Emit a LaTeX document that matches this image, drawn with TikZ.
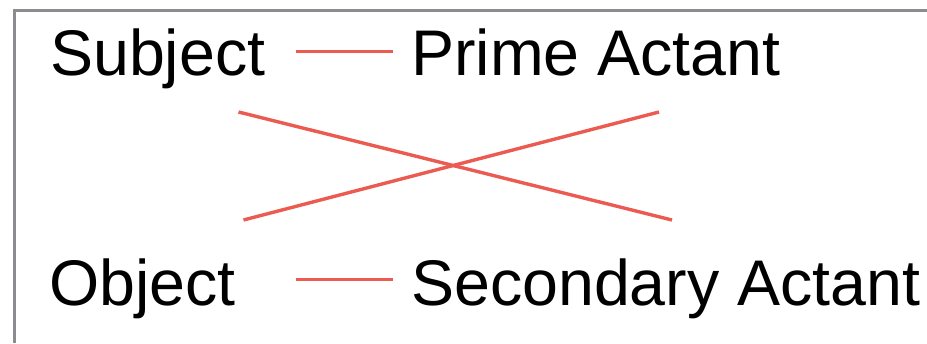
\documentclass[tikz,border=0pt]{standalone}
\usepackage{fontspec}
\setmainfont{Liberation Sans}
\definecolor{linkred}{HTML}{EB5B51}
\definecolor{framegray}{HTML}{8A8C8F}
\begin{document}
\begin{tikzpicture}[x=1pt,y=-1pt,
  lbl/.style={anchor=base west,inner sep=0pt,font=\fontsize{64.5}{64.5}\selectfont},
  link/.style={draw=linkred,line width=3.4pt},
  frame/.style={draw=framegray,line width=3.4pt}]
\useasboundingbox (0,0) rectangle (927,343);
\draw[frame] (14.5,343) -- (14.5,10.5) -- (927,10.5);
\node[lbl] (subj) at (50,75) {Subject};
\node[lbl] (prime) at (411,75) {Prime Actant};
\node[lbl] (obj) at (49,305) {Object};
\node[lbl] (second) at (411,305) {Secondary Actant};
\coordinate (x1) at ([shift={(188.5,37)}]subj.base west);
\coordinate (x2) at ([shift={(261,-85)}]second.base west);
\coordinate (x3) at ([shift={(194.5,-85)}]obj.base west);
\coordinate (x4) at ([shift={(248,37)}]prime.base west);
\draw[link] ([shift={(-115,-23.3)}]prime.base west) -- ([shift={(-18,-23.3)}]prime.base west);
\draw[link] ([shift={(-115,-25.7)}]second.base west) -- ([shift={(-18,-25.7)}]second.base west);
\draw[link] (x1) -- (x2);
\draw[link] (x3) -- (x4);
\end{tikzpicture}
\end{document}
